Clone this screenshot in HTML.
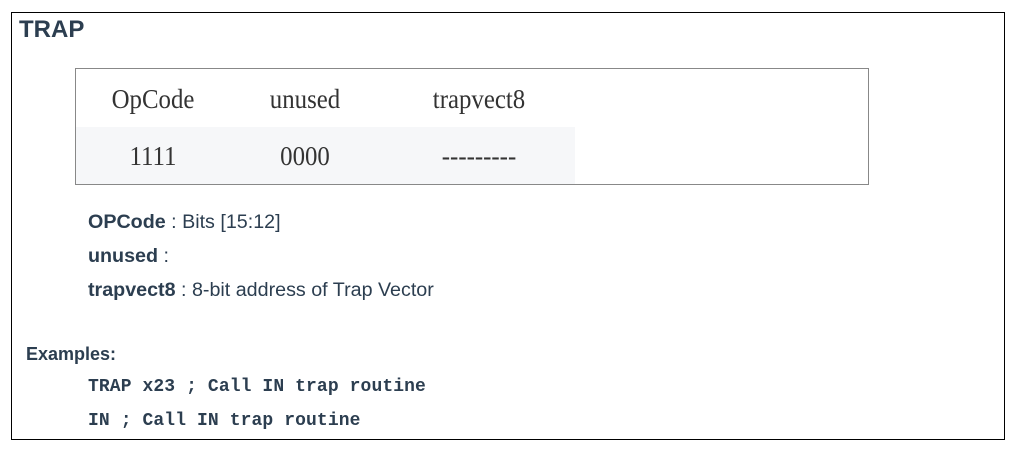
<!DOCTYPE html>
<html><head><style>
body{margin:0;width:1026px;height:454px;background:#fff;font-family:"Liberation Sans",sans-serif;color:#2c3e50;position:relative;overflow:hidden}
.box{position:absolute;left:11px;top:12px;width:992px;height:426px;border:1px solid #000}
.a{position:absolute;white-space:nowrap}
.tbl{position:absolute;left:75px;top:68px;width:792px;height:115px;border:1px solid #888}
.row2{position:absolute;left:0;top:58px;width:499px;height:57px;background:#f6f7f9}
.c{position:absolute;font-family:"Liberation Serif",serif;font-size:27px;color:#333;text-align:center;transform:translateX(-50%) scaleX(0.92);white-space:nowrap}
.d{font-size:19.7px}
.m{font-family:"Liberation Mono",monospace;font-weight:bold;font-size:18px;letter-spacing:0.1px}
</style></head><body>
<div class="box"></div>
<div class="a" style="left:19px;top:16px;font-size:24px;font-weight:bold">TRAP</div>
<div class="tbl"><div class="row2"></div>
<div class="c" style="left:77px;top:15px">OpCode</div>
<div class="c" style="left:229px;top:15px">unused</div>
<div class="c" style="left:403px;top:15px">trapvect8</div>
<div class="c" style="left:77px;top:72px">1111</div>
<div class="c" style="left:229px;top:72px">0000</div>
<div class="c" style="left:403px;top:72px">---------</div>
</div>
<div class="a d" style="left:88px;top:211px"><b>OPCode</b> : Bits [15:12]</div>
<div class="a d" style="left:88px;top:245px"><b>unused</b> :</div>
<div class="a d" style="left:88px;top:279px"><b>trapvect8</b> : 8-bit address of Trap Vector</div>
<div class="a" style="left:26px;top:344px;font-weight:bold;font-size:18px">Examples:</div>
<div class="a m" style="left:88px;top:377px">TRAP x23 ; Call IN trap routine</div>
<div class="a m" style="left:88px;top:411px">IN ; Call IN trap routine</div>
</body></html>
